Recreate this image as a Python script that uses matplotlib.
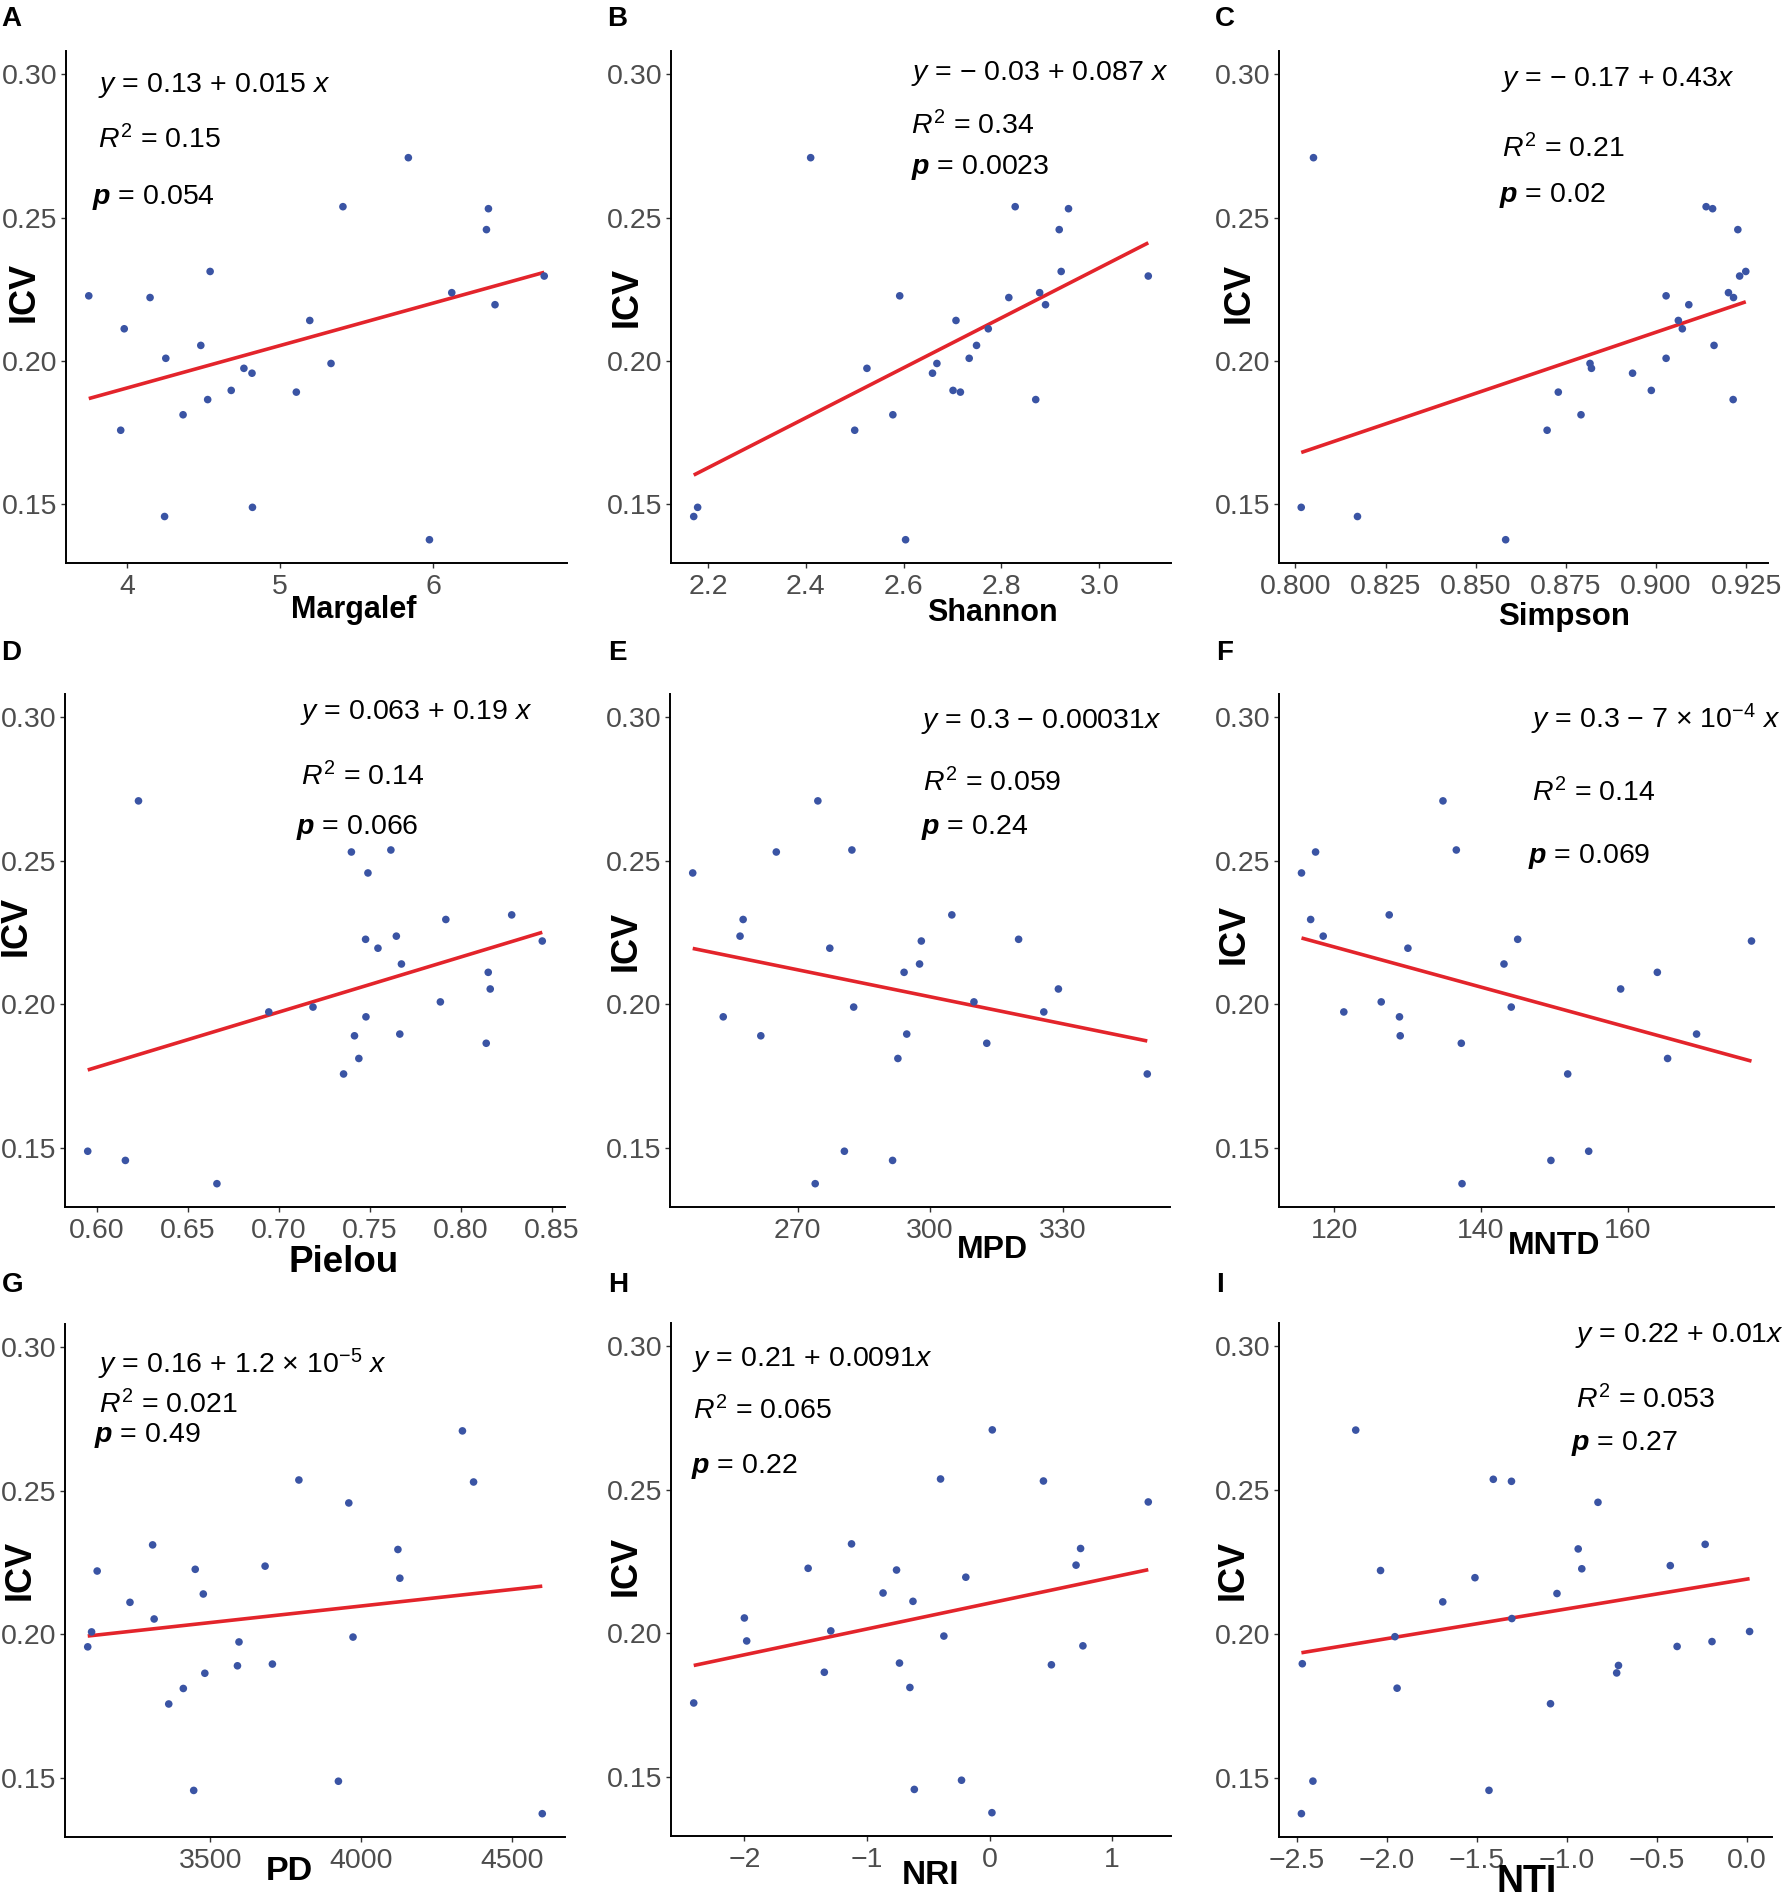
import numpy as np
import matplotlib
matplotlib.use("Agg")
import matplotlib.pyplot as plt
from matplotlib.ticker import FuncFormatter, FixedLocator

plt.rcParams['font.family'] = ['Liberation Sans', 'DejaVu Sans']
plt.rcParams['mathtext.fontset'] = 'custom'
plt.rcParams['mathtext.rm'] = 'Liberation Sans'
plt.rcParams['mathtext.it'] = 'Liberation Sans:italic'
plt.rcParams['mathtext.bf'] = 'Liberation Sans:bold'
plt.rcParams['mathtext.bfit'] = 'Liberation Sans:italic:bold'
plt.rcParams['axes.unicode_minus'] = True

# ---------------- data (25 sites) ----------------
icv = [0.2709, 0.2538, 0.2531, 0.2458, 0.2312, 0.2296, 0.2238, 0.2227, 0.2221, 0.2196,
       0.2141, 0.2112, 0.2054, 0.2009, 0.1991, 0.1974, 0.1957, 0.1897, 0.1891, 0.1865,
       0.1812, 0.1758, 0.1489, 0.1457, 0.1376]
margalef = [5.839, 5.411, 6.363, 6.350, 4.542, 6.728, 6.123, 3.748, 4.149, 6.406,
            5.194, 3.980, 4.481, 4.252, 5.333, 4.763, 4.816, 4.680, 5.106, 4.526,
            4.365, 3.957, 4.819, 4.244, 5.977]
shannon = [2.410, 2.828, 2.937, 2.918, 2.922, 3.100, 2.878, 2.592, 2.815, 2.890,
           2.707, 2.773, 2.749, 2.734, 2.668, 2.525, 2.659, 2.701, 2.716, 2.870,
           2.578, 2.500, 2.179, 2.171, 2.604]
simpson = [0.8050, 0.9139, 0.9157, 0.9227, 0.9249, 0.9232, 0.9201, 0.9028, 0.9215, 0.9091,
           0.9062, 0.9073, 0.9161, 0.9028, 0.8817, 0.8821, 0.8935, 0.8987, 0.8729, 0.9214,
           0.8792, 0.8698, 0.8016, 0.8172, 0.8583]
pielou = [0.6228, 0.7615, 0.7398, 0.7489, 0.8279, 0.7917, 0.7645, 0.7476, 0.8447, 0.7544,
          0.7673, 0.8150, 0.8161, 0.7887, 0.7187, 0.6944, 0.7478, 0.7664, 0.7415, 0.8139,
          0.7439, 0.7355, 0.5949, 0.6156, 0.6659]
mpd = [274.6, 282.3, 265.2, 246.3, 304.9, 257.7, 257.0, 320.0, 298.0, 277.3,
       297.6, 294.1, 329.0, 309.9, 282.7, 325.7, 253.2, 294.7, 261.7, 312.8,
       292.7, 349.1, 280.6, 291.5, 274.0]
mntd = [134.82, 136.64, 117.45, 115.53, 127.49, 116.78, 118.49, 145.01, 176.89, 130.04,
        143.14, 164.05, 159.05, 126.40, 144.13, 121.30, 128.89, 169.40, 128.99, 137.32,
        165.45, 151.83, 154.69, 149.54, 137.42]
pd_ = [4335.9, 3793.9, 4372.8, 3959.3, 3309.2, 4122.1, 3681.9, 3450.4, 3125.4, 4128.5,
       3477.1, 3234.1, 3314.2, 3106.9, 3973.3, 3595.4, 3094.1, 3706.1, 3590.3, 3482.2,
       3410.9, 3362.6, 3924.9, 3445.3, 4600.5]
nri = [0.022, -0.400, 0.439, 1.294, -1.126, 0.742, 0.705, -1.480, -0.759, -0.194,
       -0.869, -0.625, -2.000, -1.295, -0.373, -1.981, 0.761, -0.735, 0.504, -1.348,
       -0.650, -2.413, -0.229, -0.614, 0.019]
nti = [-2.173, -1.408, -1.307, -0.826, -0.230, -0.936, -0.424, -0.916, -2.035, -1.510,
       -1.054, -1.689, -1.305, 0.017, -1.955, -0.192, -0.386, -2.470, -0.712, -0.722,
       -1.943, -1.090, -2.411, -1.432, -2.475]

panel_letters = ['A', 'B', 'C', 'D', 'E', 'F', 'G', 'H', 'I']
x_names = ['Margalef', 'Shannon', 'Simpson', 'Pielou', 'MPD', 'MNTD', 'PD', 'NRI', 'NTI']
x_series = [margalef, shannon, simpson, pielou, mpd, mntd, pd_, nri, nti]
x_ticks = [[4, 5, 6], [2.2, 2.4, 2.6, 2.8, 3.0], [0.800, 0.825, 0.850, 0.875, 0.900, 0.925],
           [0.60, 0.65, 0.70, 0.75, 0.80, 0.85], [270, 300, 330], [120, 140, 160],
           [3500, 4000, 4500], [-2, -1, 0, 1], [-2.5, -2.0, -1.5, -1.0, -0.5, 0.0]]
x_fmt = ['%d', '%.1f', '%.3f', '%.2f', '%d', '%d', '%d', '%d', '%.1f']
y_ticks = [0.15, 0.20, 0.25, 0.30]
eq_texts = ['$y$ = 0.13 + 0.015 $x$',
            '$y$ = \u2212 0.03 + 0.087 $x$',
            '$y$ = \u2212 0.17 + 0.43$x$',
            '$y$ = 0.063 + 0.19 $x$',
            '$y$ = 0.3 \u2212 0.00031$x$',
            '$y$ = 0.3 \u2212 7 \u00d7 $10^{-4}$ $x$',
            '$y$ = 0.16 + 1.2 \u00d7 $10^{-5}$ $x$',
            '$y$ = 0.21 + 0.0091$x$',
            '$y$ = 0.22 + 0.01$x$']
r2_texts = ['0.15', '0.34', '0.21', '0.14', '0.059', '0.14', '0.021', '0.065', '0.053']
p_texts = ['0.054', '0.0023', '0.02', '0.066', '0.24', '0.069', '0.49', '0.22', '0.27']

# ---------------- layout (pixels) ----------------
W, H = 1782, 1898
fig = plt.figure(figsize=(W / 100, H / 100), dpi=100)
fig.patch.set_facecolor('white')

axes_px = [(66, 567, 51, 563), (671, 1171, 51, 563), (1279, 1768, 51, 563),
           (65, 565, 694, 1207), (670, 1170, 694, 1207), (1279, 1774, 694, 1207),
           (65, 565, 1324, 1837), (671, 1171, 1323, 1836), (1279, 1772, 1323, 1837)]
letter_px = [(1, 26), (607, 26), (1215, 26), (1, 660), (608, 660), (1216, 660),
             (2, 1292), (608, 1292), (1216, 1292)]
ylab_px = [(24, 292), (627, 297), (1239, 293), (16, 926), (626, 941), (1234, 934),
           (20, 1570), (626, 1566), (1233, 1570)]
xlab_px = [(354, 618), (992, 621), (1564, 625), (344, 1272), (992, 1258), (1554, 1254),
           (289, 1880), (931, 1884), (1527, 1892)]
xlab_size = [22, 22, 22.5, 26.5, 23, 23, 24.5, 24, 27]
eq_px = [(98, 92), (911, 80), (1501, 86), (300, 719), (921, 728), (1531, 728),
         (98, 1373), (692, 1366), (1575, 1342)]
r2_px = [(98, 148), (911, 134), (1502, 157), (301, 785), (923, 791), (1532, 801),
         (99, 1413), (693, 1419), (1576, 1408)]
p_px = [(92, 204), (911, 174), (1499, 202), (296, 834), (921, 834), (1528, 863),
        (94, 1442), (691, 1473), (1571, 1450)]


def fx(x):
    return x / W


def fy(y):
    return 1 - y / H


def make_fmt(f):
    return FuncFormatter(lambda v, pos: (f % v).replace('-', '\u2212'))


point_color = '#3A54A4'
line_color = '#E3242B'
ann_size = 20.5

y_arr = np.array(icv)
ylo = y_arr.min()
yhi = 0.30
ypad = 0.05 * (yhi - ylo)

for i in range(9):
    l, r, t, b = axes_px[i]
    ax = fig.add_axes([fx(l), fy(b), (r - l) / W, (b - t) / H])
    x = np.array(x_series[i])
    ax.scatter(x, y_arr, s=30, color=point_color, edgecolors='none', zorder=3)
    k, c = np.polyfit(x, y_arr, 1)
    xs = np.array([x.min(), x.max()])
    ax.plot(xs, c + k * xs, color=line_color, lw=2.6, zorder=2, solid_capstyle='butt')
    xr = x.max() - x.min()
    ax.set_xlim(x.min() - 0.05 * xr, x.max() + 0.05 * xr)
    ax.set_ylim(ylo - ypad, yhi + ypad)
    ax.xaxis.set_major_locator(FixedLocator(x_ticks[i]))
    ax.yaxis.set_major_locator(FixedLocator(y_ticks))
    ax.xaxis.set_major_formatter(make_fmt(x_fmt[i]))
    ax.yaxis.set_major_formatter(make_fmt('%.2f'))
    for s in ['top', 'right']:
        ax.spines[s].set_visible(False)
    for s in ['left', 'bottom']:
        ax.spines[s].set_linewidth(1.4)
        ax.spines[s].set_color('black')
    ax.tick_params(axis='both', length=3.5, width=1.0, color='#333333',
                   labelsize=20.5, labelcolor='#4D4D4D')
    ax.tick_params(axis='x', pad=4.5)
    ax.tick_params(axis='y', pad=2.5)
    ax.set_facecolor('white')

    # panel letter
    lx, ly = letter_px[i]
    fig.text(fx(lx), fy(ly), panel_letters[i], fontsize=20, fontweight='bold',
             ha='left', va='baseline')
    # y label
    yx, yy = ylab_px[i]
    fig.text(fx(yx), fy(yy), 'ICV', fontsize=26, fontweight='bold', rotation=90,
             ha='center', va='center')
    # x label
    xx, xy = xlab_px[i]
    fig.text(fx(xx), fy(xy), x_names[i], fontsize=xlab_size[i], fontweight='bold',
             ha='center', va='baseline')
    # annotations
    ex, ey = eq_px[i]
    fig.text(fx(ex), fy(ey), eq_texts[i], fontsize=ann_size, ha='left', va='baseline')
    rx, ry = r2_px[i]
    fig.text(fx(rx), fy(ry), r'$R^2$ = ' + r2_texts[i], fontsize=ann_size,
             ha='left', va='baseline')
    px_, py_ = p_px[i]
    fig.text(fx(px_), fy(py_), r'$\mathbfit{p}$ = ' + p_texts[i], fontsize=ann_size,
             ha='left', va='baseline')

fig.savefig('out.png', dpi=100, facecolor='white')
